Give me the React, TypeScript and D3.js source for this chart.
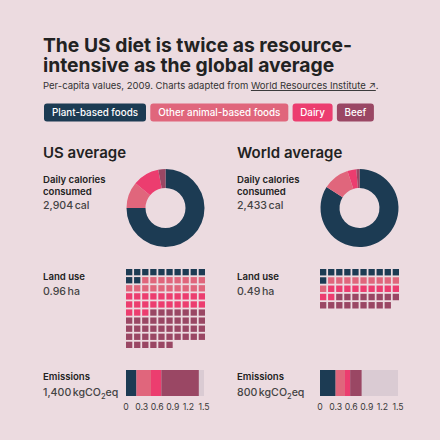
import * as d3 from "d3";

// food groups, in drawing order
const groups = ["Plant-based foods", "Other animal-based foods", "Dairy", "Beef"];
const colors = ["#1c3b53", "#e0667c", "#ec3d6f", "#9a4764"];

// per-capita figures, 2009
const usCalShare = [0.75, 0.11, 0.11, 0.03];
const worldCalShare = [0.84, 0.11, 0.037, 0.013];
const usLandSquares = [12, 18, 23, 43]; // 1 square = 0.01 ha
const worldLandSquares = [11, 10, 11, 17];
const usEmissions = [0.2, 0.28, 0.2, 0.72]; // tCO2eq
const worldEmissions = [0.3, 0.18, 0.1, 0.22];
const emissionTicks = [0, 0.3, 0.6, 0.9, 1.2, 1.5];

const FONT = "Inter, 'Noto Sans', sans-serif";
const W = 440;
const H = 440;

function Donut({ cx, cy, shares }: { cx: number; cy: number; shares: number[] }) {
  const arcs = d3.pie<number>().sort(null)(shares);
  const arc = d3.arc<d3.PieArcDatum<number>>().innerRadius(20).outerRadius(39);
  return (
    <g transform={`translate(${cx},${cy})`}>
      {arcs.map((a, i) => (
        <path key={i} d={arc(a) as string} fill={colors[i]} />
      ))}
    </g>
  );
}

function Waffle({ x0, y0, counts }: { x0: number; y0: number; counts: number[] }) {
  const cells: number[] = [];
  counts.forEach((n, g) => {
    for (let k = 0; k < n; k++) cells.push(g);
  });
  const col = d3.scaleBand<number>().domain(d3.range(10)).range([x0, x0 + 79]).paddingInner(0.22);
  const rows = Math.ceil(cells.length / 10);
  const row = d3.scaleBand<number>().domain(d3.range(rows)).range([y0, y0 + rows * 7.9]).paddingInner(0.22);
  return (
    <g>
      {cells.map((g, i) => (
        <rect
          key={i}
          x={col(i % 10)}
          y={row(Math.floor(i / 10))}
          width={col.bandwidth()}
          height={row.bandwidth()}
          fill={colors[g]}
        />
      ))}
    </g>
  );
}

function EmissionBar({ x0, y0, values }: { x0: number; y0: number; values: number[] }) {
  const x = d3.scaleLinear().domain([0, 1.5]).range([x0, x0 + 78]);
  const ends = d3.cumsum(values);
  return (
    <g>
      <rect x={x(0)} y={y0} width={x(1.5) - x(0)} height={26} fill="#dacbd3" />
      {values.map((v, i) => {
        const start = i === 0 ? 0 : ends[i - 1];
        return <rect key={i} x={x(start)} y={y0} width={x(start + v) - x(start)} height={26} fill={colors[i]} />;
      })}
      {emissionTicks.map((t) => (
        <text key={t} x={x(t)} y={y0 + 40} textAnchor="middle" fontSize={8.7} fill="#3a3a3a">
          {String(t)}
        </text>
      ))}
    </g>
  );
}

function Column({
  x0,
  title,
  calories,
  land,
  emissions,
  calShare,
  landSquares,
  emissionValues,
}: {
  x0: number;
  title: string;
  calories: string;
  land: string;
  emissions: string;
  calShare: number[];
  landSquares: number[];
  emissionValues: number[];
}) {
  const cx = x0 + 83;
  const label = { fontSize: 9.6, fontWeight: 600, fill: "#222" };
  const value = { fontSize: 10.6, fontWeight: 500, fill: "#444" };
  return (
    <g>
      <text x={x0} y={158} fontSize={15} fontWeight={600} fill="#222">
        {title}
      </text>
      <text x={x0} y={183} {...label}>
        Daily calories
        <tspan x={x0} dy={12}>consumed</tspan>
      </text>
      <text x={x0} y={208.5} {...value}>
        {calories}
        <tspan dx={1.5}>cal</tspan>
      </text>
      <Donut cx={cx + 39.5} cy={208} shares={calShare} />

      <text x={x0} y={280} {...label}>
        Land use
      </text>
      <text x={x0} y={294.5} {...value}>
        {land}
        <tspan dx={1.5}>ha</tspan>
      </text>
      <Waffle x0={cx} y0={269} counts={landSquares} />

      <text x={x0} y={379.5} {...label}>
        Emissions
      </text>
      <text x={x0} y={396} {...value}>
        {emissions}
        <tspan dx={1.5}>kgCO</tspan>
        <tspan fontSize={7.5} dy={2.5}>2</tspan>
        <tspan dy={-2.5}>eq</tspan>
      </text>
      <EmissionBar x0={cx} y0={370} values={emissionValues} />
    </g>
  );
}

export default function App() {
  // legend chips laid out left to right
  const chipWidths = [102, 138, 40, 37];
  const chipX = chipWidths.map((_, i) => 44 + d3.sum(chipWidths.slice(0, i)) + i * 4.3);

  return (
    <svg width={W} height={H} style={{ position: "absolute", left: 0, top: 0 }} fontFamily={FONT}>
      <rect width={W} height={H} fill="#ecdbe0" />
      <text x={43} y={52} fontSize={19.3} fontWeight={700} fill="#222">
        The US diet is twice as resource-
        <tspan x={43} dy={20}>intensive as the global average</tspan>
      </text>
      <text x={43} y={89} fontSize={9.5} fill="#333">
        Per-capita values, 2009. Charts adapted from{" "}
        <tspan textDecoration="underline">World Resources Institute ↗</tspan>.
      </text>

      {groups.map((g, i) => (
        <g key={g}>
          <rect x={chipX[i]} y={103.5} width={chipWidths[i]} height={18} rx={3} fill={colors[i]} />
          <text
            x={chipX[i] + chipWidths[i] / 2}
            y={116}
            textAnchor="middle"
            fontSize={9.8}
            fontWeight={500}
            fill="#fff"
          >
            {g}
          </text>
        </g>
      ))}

      <Column
        x0={43}
        title="US average"
        calories="2,904"
        land="0.96"
        emissions="1,400"
        calShare={usCalShare}
        landSquares={usLandSquares}
        emissionValues={usEmissions}
      />
      <Column
        x0={237}
        title="World average"
        calories="2,433"
        land="0.49"
        emissions="800"
        calShare={worldCalShare}
        landSquares={worldLandSquares}
        emissionValues={worldEmissions}
      />
    </svg>
  );
}
